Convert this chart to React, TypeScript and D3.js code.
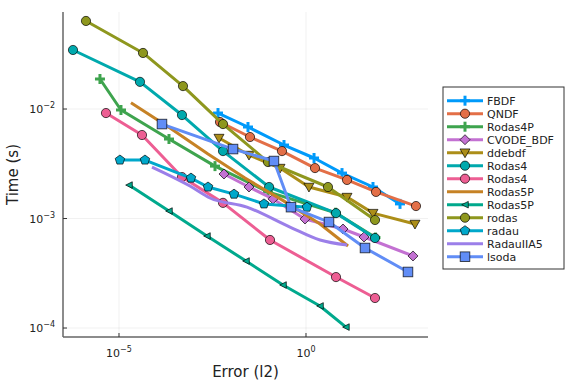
import * as d3 from 'd3';
import React from 'react';

// work-precision data, error (l2) vs time (s)
const fbdfErr = [4.44e-3, 2.81e-2, 0.258, 1.64, 9.18, 61.8, 326];
const fbdfTime = [9.19e-3, 6.85e-3, 4.69e-3, 3.57e-3, 2.6e-3, 1.94e-3, 1.36e-3];
const qndfErr = [5.02e-3, 3.18e-2, 0.228, 1.74, 12.5, 74.5, 873];
const qndfTime = [7.61e-3, 5.55e-3, 4.13e-3, 2.89e-3, 2.25e-3, 1.75e-3, 1.3e-3];
const rodas4pErr = [3.1e-6, 1.13e-5, 2.17e-4, 3.69e-3, 9.64e-2, 6.2, 72.0];
const rodas4pTime = [1.88e-2, 9.8e-3, 5.32e-3, 3.01e-3, 1.75e-3, 1.13e-3, 6.7e-4];
const cvodeErr = [6.41e-3, 2.99e-2, 0.131, 0.94, 9.75, 35.6, 726];
const cvodeTime = [2.55e-3, 1.94e-3, 1.51e-3, 9.9e-4, 8.02e-4, 6.78e-4, 4.55e-4];
const ddebdfErr = [4.72e-3, 2.99e-2, 0.202, 1.2, 12.5, 61.8, 820];
const ddebdfTime = [5.43e-3, 3.8e-3, 2.89e-3, 1.94e-3, 1.57e-3, 1.12e-3, 8.91e-4];
const rodas4aErr = [5.89e-7, 3.64e-5, 4.83e-4, 6.04e-3, 0.103, 6.34, 70.0];
const rodas4aTime = [3.46e-2, 1.77e-2, 8.81e-3, 4.13e-3, 1.94e-3, 1.12e-3, 6.64e-4];
const rodas4bErr = [4.49e-6, 4.12e-5, 4.83e-4, 6.04e-3, 0.109, 6.34, 70.0];
const rodas4bTime = [9.19e-3, 5.79e-3, 2.39e-3, 1.39e-3, 6.37e-4, 2.92e-4, 1.88e-4];
const rodas5pAErr = [2.09e-5, 2.31e-4, 2.4e-3, 2.34e-2, 0.228, 2.37, 13.3];
const rodas5pATime = [1.14e-2, 6.71e-3, 3.88e-3, 2.34e-3, 1.48e-3, 8.91e-4, 5.61e-4];
const rodas5pBErr = [1.85e-5, 2.17e-4, 2.25e-3, 2.49e-2, 0.243, 2.37, 11.7];
const rodas5pBTime = [2.02e-3, 1.17e-3, 6.92e-4, 4.09e-4, 2.47e-4, 1.59e-4, 1.02e-4];
const rodasErr = [1.31e-6, 4.39e-5, 5.14e-4, 6.04e-3, 9.64e-2, 3.87, 70.0];
const rodasTime = [6.37e-2, 3.25e-2, 1.62e-2, 7.29e-3, 3.28e-3, 1.94e-3, 9.69e-4];
const radauErr = [1.06e-5, 4.95e-5, 8.41e-4, 2.4e-3, 1.19e-2, 7.53e-2, 1.06];
const radauTime = [3.42e-3, 3.42e-3, 2.34e-3, 1.94e-3, 1.67e-3, 1.36e-3, 1.27e-3];
const radauIIA5Err = [7.62e-5, 7.91e-4, 2.71e-3, 2.64e-2, 0.373, 2.37, 12.5];
const radauIIA5Time = [2.95e-3, 1.98e-3, 1.54e-3, 1.27e-3, 8.36e-4, 6.37e-4, 5.73e-4];
const lsodaErr = [1.41e-4, 1.12e-2, 0.139, 0.397, 4.12, 37.8, 533];
const lsodaTime = [7.29e-3, 4.31e-3, 3.35e-3, 1.27e-3, 9.29e-4, 5.38e-4, 3.25e-4];

const names = ['FBDF', 'QNDF', 'Rodas4P', 'CVODE_BDF', 'ddebdf', 'Rodas4', 'Rodas4',
  'Rodas5P', 'Rodas5P', 'rodas', 'radau', 'RadauIIA5', 'lsoda'];
const xTicks = [1e-5, 1e0];
const yTicks = [1e-4, 1e-3, 1e-2];

const colors = ['#009AFA', '#E36F47', '#3EA44E', '#C371D2', '#AC8E18', '#00A9AD', '#ED5E93',
  '#C68225', '#00A98D', '#8E971E', '#00A8CB', '#9B7FE9', '#618DF6'];
const markers = ['cross', 'circle', 'cross', 'diamond', 'dtriangle', 'circle', 'circle',
  'none', 'ltriangle', 'circle', 'pentagon', 'none', 'square'];

const errs = [fbdfErr, qndfErr, rodas4pErr, cvodeErr, ddebdfErr, rodas4aErr, rodas4bErr,
  rodas5pAErr, rodas5pBErr, rodasErr, radauErr, radauIIA5Err, lsodaErr];
const times = [fbdfTime, qndfTime, rodas4pTime, cvodeTime, ddebdfTime, rodas4aTime, rodas4bTime,
  rodas5pATime, rodas5pBTime, rodasTime, radauTime, radauIIA5Time, lsodaTime];

const margin = { left: 63, right: 148, top: 12, bottom: 47 };
const W = 576, H = 384;

const Marker = ({ kind, x, y, color }: { kind: string; x: number; y: number; color: string }) => {
  const stroke = 'rgba(0,0,0,0.75)';
  if (kind === 'circle') return <circle cx={x} cy={y} r={4.6} fill={color} stroke={stroke} strokeWidth={0.9} />;
  if (kind === 'square') return <rect x={x - 4.8} y={y - 4.8} width={9.6} height={9.6} fill={color} stroke={stroke} strokeWidth={0.9} />;
  if (kind === 'diamond') {
    const s = 5;
    return <polygon points={`${x},${y - s} ${x + s},${y} ${x},${y + s} ${x - s},${y}`} fill={color} stroke={stroke} strokeWidth={0.9} />;
  }
  if (kind === 'dtriangle') {
    const s = 5;
    return <polygon points={`${x - s},${y - s * 0.75} ${x + s},${y - s * 0.75} ${x},${y + s}`} fill={color} stroke={stroke} strokeWidth={0.9} />;
  }
  if (kind === 'ltriangle') {
    const s = 3.3;
    return <polygon points={`${x - s},${y} ${x + s},${y - s} ${x + s},${y + s}`} fill={color} stroke={stroke} strokeWidth={0.9} />;
  }
  if (kind === 'pentagon') {
    const pts = d3.range(5).map((i) => {
      const a = -Math.PI / 2 + (i * 2 * Math.PI) / 5;
      return `${x + 5 * Math.cos(a)},${y + 5 * Math.sin(a)}`;
    });
    return <polygon points={pts.join(' ')} fill={color} stroke={stroke} strokeWidth={0.9} />;
  }
  if (kind === 'cross') {
    return (
      <g stroke={color} strokeWidth={3}>
        <line x1={x - 5} x2={x + 5} y1={y} y2={y} />
        <line x1={x} x2={x} y1={y - 5} y2={y + 5} />
      </g>
    );
  }
  return null;
};

// "10" with a superscript exponent
const Pow10 = ({ v }: { v: number }) => {
  const e = Math.round(Math.log10(v));
  return (
    <>
      10<tspan dy={-5} fontSize={8}>{e < 0 ? '\u2212' + Math.abs(e) : String(e)}</tspan>
    </>
  );
};

export default function App() {
  const x = d3.scaleLog().domain([10 ** -6.497, 10 ** 3.262]).range([margin.left, W - margin.right]);
  const y = d3.scaleLog().domain([10 ** -4.082, 10 ** -1.114]).range([H - margin.bottom, margin.top]);
  const line = d3.line<[number, number]>().x((d) => x(d[0])).y((d) => y(d[1]));
  const smooth = d3.line<[number, number]>().x((d) => x(d[0])).y((d) => y(d[1])).curve(d3.curveMonotoneX);

  const x0 = margin.left, x1 = W - margin.right, y0 = H - margin.bottom, y1 = margin.top;
  const font = 'DejaVu Sans, sans-serif';

  const legendX = 443, legendY = 87, legendW = 121, legendH = 182, rowH = 13;

  return (
    <svg width={W} height={H} style={{ position: 'absolute', left: 0, top: 0 }} fontFamily={font}>
      <rect width={W} height={H} fill="white" />
      {/* grid */}
      {xTicks.map((t) => (
        <line key={'gx' + t} x1={x(t)} x2={x(t)} y1={y1} y2={y0} stroke="#000" strokeOpacity={0.1} strokeWidth={0.6} />
      ))}
      {yTicks.map((t) => (
        <line key={'gy' + t} x1={x0} x2={x1} y1={y(t)} y2={y(t)} stroke="#000" strokeOpacity={0.1} strokeWidth={0.6} />
      ))}
      {/* series */}
      {names.map((n, i) => {
        const pts = errs[i].map((e, j) => [e, times[i][j]] as [number, number]);
        const gen = n === 'RadauIIA5' ? smooth : line;
        return (
          <g key={'s' + i}>
            <path d={gen(pts) || ''} fill="none" stroke={colors[i]} strokeWidth={3} strokeLinejoin="round" />
            {pts.map((p, j) => (
              <Marker key={j} kind={markers[i]} x={x(p[0])} y={y(p[1])} color={colors[i]} />
            ))}
          </g>
        );
      })}
      {/* axes */}
      <line x1={x0} x2={x0} y1={y1} y2={y0} stroke="#666" strokeWidth={1.5} />
      <line x1={x0} x2={x1} y1={y0} y2={y0} stroke="#666" strokeWidth={1.5} />
      {xTicks.map((t) => (
        <g key={'xt' + t}>
          <line x1={x(t)} x2={x(t)} y1={y0} y2={y0 - 4} stroke="#333" strokeWidth={1} />
          <text x={x(t)} y={y0 + 20} textAnchor="middle" fontSize={11} fill="#222">
            <Pow10 v={t} />
          </text>
        </g>
      ))}
      {yTicks.map((t) => (
        <g key={'yt' + t}>
          <line x1={x0} x2={x0 + 4} y1={y(t)} y2={y(t)} stroke="#333" strokeWidth={1} />
          <text x={x0 - 8} y={y(t) + 4} textAnchor="end" fontSize={11} fill="#222">
            <Pow10 v={t} />
          </text>
        </g>
      ))}
      <text x={(x0 + x1) / 2} y={377} textAnchor="middle" fontSize={15} fill="#222">Error (l2)</text>
      <text transform={`translate(18,${(y0 + y1) / 2}) rotate(-90)`} textAnchor="middle" fontSize={15} fill="#222">Time (s)</text>
      {/* legend */}
      <rect x={legendX} y={legendY} width={legendW} height={legendH} fill="white" stroke="#333" strokeWidth={1} />
      {names.map((n, i) => {
        const ly = legendY + 13.7 + i * rowH;
        return (
          <g key={'l' + i}>
            <line x1={447} x2={483} y1={ly} y2={ly} stroke={colors[i]} strokeWidth={3} />
            <Marker kind={markers[i]} x={465} y={ly} color={colors[i]} />
            <text x={487} y={ly + 4} fontSize={11} fill="#222">{n}</text>
          </g>
        );
      })}
    </svg>
  );
}
